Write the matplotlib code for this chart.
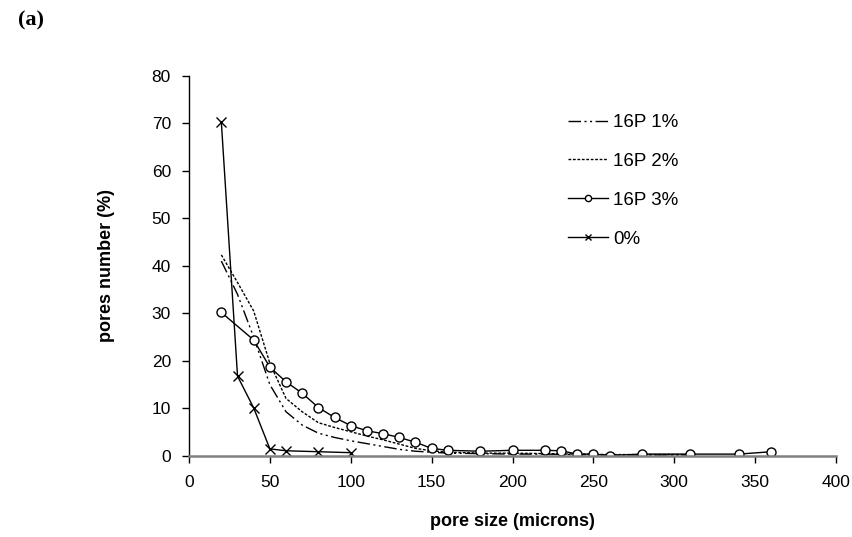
import matplotlib
matplotlib.use("Agg")
import matplotlib.pyplot as plt
from matplotlib.lines import Line2D

plt.rcParams['font.family'] = ['Liberation Sans', 'DejaVu Sans']

# ---- data ----
x_1pct = [20, 30, 40, 50, 60, 70, 80, 90, 100, 110, 120, 130, 140, 150, 160, 180, 200, 220, 240, 260, 280, 310]
y_1pct = [41, 34, 25, 15, 9.3, 6.5, 4.8, 3.9, 3.2, 2.6, 2.0, 1.4, 1.0, 0.8, 0.6, 0.5, 0.4, 0.4, 0.3, 0.2, 0.2, 0.2]

x_2pct = [20, 30, 40, 50, 60, 70, 80, 90, 100, 110, 120, 130, 140, 150, 160, 180, 200, 220, 240, 260, 280, 310]
y_2pct = [42.3, 36.5, 30.5, 19.5, 12.1, 9.3, 7.0, 6.0, 5.1, 4.2, 3.4, 2.5, 1.6, 1.1, 0.8, 0.6, 0.6, 0.5, 0.4, 0.3, 0.3, 0.3]

x_3pct = [20, 40, 50, 60, 70, 80, 90, 100, 110, 120, 130, 140, 150, 160, 180, 200, 220, 230, 240, 250, 260, 280, 310, 340, 360]
y_3pct = [30.2, 24.4, 18.7, 15.6, 13.2, 10.2, 8.1, 6.4, 5.3, 4.7, 3.9, 2.9, 1.6, 1.2, 1.0, 1.2, 1.2, 1.1, 0.4, 0.4, 0.1, 0.4, 0.4, 0.4, 0.9]

x_0pct = [20, 30, 40, 50, 60, 80, 100]
y_0pct = [70.2, 16.8, 10.1, 1.5, 1.1, 0.9, 0.7]

labels = ["16P 1%", "16P 2%", "16P 3%", "0%"]
x_ticks = [0, 50, 100, 150, 200, 250, 300, 350, 400]
y_ticks = [0, 10, 20, 30, 40, 50, 60, 70, 80]

W, H = 852, 537
fig = plt.figure(figsize=(W / 100, H / 100), dpi=100)
ax = fig.add_axes([189 / W, 1 - 456 / H, 647 / W, (456 - 75.7) / H])

dash_1 = (9, 2.5, 1.5, 2.5, 1.5, 2.5)
dash_2 = (2, 1.2)
ax.plot(x_1pct, y_1pct, color='black', lw=1.0, dashes=dash_1, label=labels[0])
ax.plot(x_2pct, y_2pct, color='black', lw=1.0, dashes=dash_2, label=labels[1])
ax.plot(x_3pct, y_3pct, color='black', lw=1.0, marker='o', ms=6.5, mfc='white', mec='black', mew=1.0, label=labels[2])
ax.plot(x_0pct, y_0pct, color='black', lw=1.0, marker='x', ms=6.5, mec='black', mew=1.0, label=labels[3])

ax.set_xlim(0, 400)
ax.set_ylim(0, 80)
ax.set_xticks(x_ticks)
ax.set_yticks(y_ticks)
ax.tick_params(axis='both', labelsize=12.5, direction='out', length=5, width=1, colors='black')
ax.tick_params(axis='x', pad=9)
ax.tick_params(axis='y', pad=8)

for s in ['top', 'right']:
    ax.spines[s].set_visible(False)
ax.spines['left'].set_linewidth(1.0)
ax.spines['bottom'].set_color('#808080')
ax.spines['bottom'].set_linewidth(1.8)

ax.set_xlabel("pore size (microns)", fontsize=13, fontweight='bold', labelpad=16)
ax.set_ylabel("pores number (%)", fontsize=13, fontweight='bold', labelpad=26)

handles = [
    Line2D([], [], color='black', lw=1.0, dashes=dash_1),
    Line2D([], [], color='black', lw=1.0, dashes=dash_2),
    Line2D([], [], color='black', lw=1.0, marker='o', ms=4.5, mfc='white', mec='black'),
    Line2D([], [], color='black', lw=1.0, marker='x', ms=4.5, mec='black'),
]
leg = ax.legend(handles, labels, loc='upper left', bbox_to_anchor=(568 / W, 1 - 114 / H),
                bbox_transform=fig.transFigure,
                frameon=False, fontsize=13.5, handlelength=2.13, handletextpad=0.27,
                labelspacing=1.16, borderaxespad=0, borderpad=0)

fig.text(18 / W, 1 - 20 / H, "(a)", fontsize=16, fontweight='bold',
         family=['Liberation Serif', 'DejaVu Serif'], va='center', ha='left')

fig.savefig("out.png", dpi=100)
